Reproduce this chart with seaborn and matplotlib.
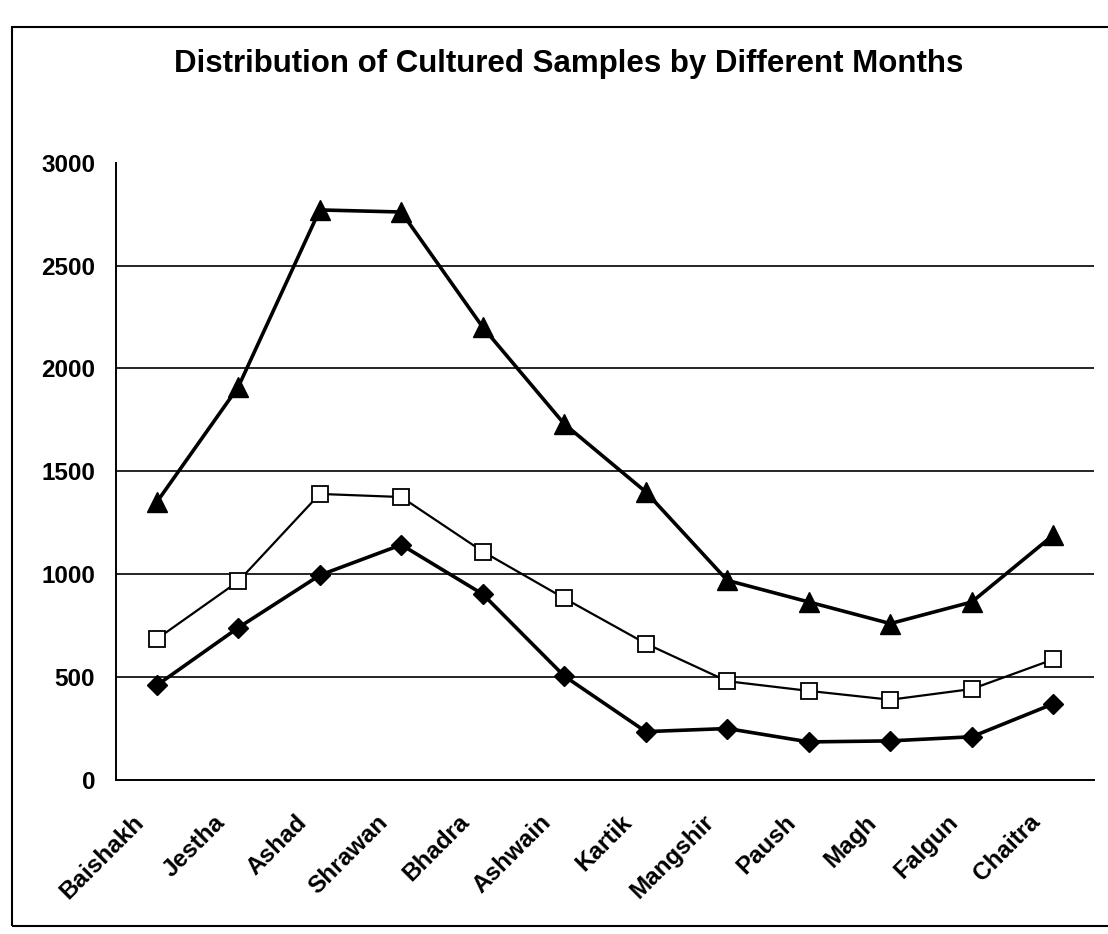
import numpy as np
import pandas as pd
import matplotlib
matplotlib.use("Agg")
import matplotlib.pyplot as plt
import matplotlib.transforms as mtransforms
from matplotlib.patches import Rectangle
import seaborn as sns

months = ["Baishakh", "Jestha", "Ashad", "Shrawan", "Bhadra", "Ashwain",
          "Kartik", "Mangshir", "Paush", "Magh", "Falgun", "Chaitra"]
triangle_vals = [1350, 1910, 2770, 2760, 2200, 1730, 1400, 970, 865, 760, 865, 1190]
square_vals = [685, 965, 1390, 1375, 1110, 883, 663, 480, 433, 390, 442, 586]
diamond_vals = [460, 740, 995, 1143, 903, 505, 235, 250, 185, 190, 210, 370]
y_ticks = [0, 500, 1000, 1500, 2000, 2500, 3000]

sns.set_style("white")
plt.rcParams["font.family"] = ["Liberation Sans", "DejaVu Sans"]
plt.rcParams["text.color"] = "black"
plt.rcParams["xtick.color"] = "black"
plt.rcParams["ytick.color"] = "black"

df = pd.DataFrame({
    "pos": np.tile(np.arange(len(months)), 3),
    "value": triangle_vals + square_vals + diamond_vals,
    "series": ["Series 1"] * 12 + ["Series 2"] * 12 + ["Series 3"] * 12,
})

fig = plt.figure(figsize=(11.08, 9.34), dpi=100)
ax = fig.add_axes([0.1047, 0.1649, 0.8827, 0.661])

styles = {
    "Series 1": dict(marker="^", markersize=14, lw=2.6, mfc="black", mec="black"),
    "Series 2": dict(marker="s", markersize=11, lw=1.6, mfc="white", mec="black", mew=1.3),
    "Series 3": dict(marker="D", markersize=10, lw=2.6, mfc="black", mec="black"),
}
for name, st in styles.items():
    sub = df[df["series"] == name]
    sns.lineplot(data=sub, x="pos", y="value", ax=ax, color="black",
                 linewidth=st["lw"], marker=st["marker"], markersize=st["markersize"],
                 markerfacecolor=st["mfc"], markeredgecolor=st["mec"],
                 markeredgewidth=st.get("mew", 1), legend=False, zorder=3)

ax.set_xlim(-0.5, len(months) - 0.5)
ax.set_ylim(0, 3000)
for v in y_ticks[1:-1]:
    ax.axhline(v, color="black", lw=1.2, zorder=1)

ax.set_yticks(y_ticks)
ax.set_yticklabels([str(v) for v in y_ticks], fontsize=17.5, fontweight="bold")
ax.set_xticks(np.arange(len(months)))
ax.set_xticklabels(months, rotation=45, ha="right", rotation_mode="anchor",
                   fontsize=17.5, fontweight="bold")
ax.set_xticks(np.arange(len(months) + 1) - 0.5, minor=True)
ax.tick_params(axis="x", which="major", length=0, pad=22)
ax.tick_params(axis="x", which="minor", length=6, width=1.2, direction="out")
ax.tick_params(axis="y", length=9, width=1.2, direction="out", pad=6)

shift = mtransforms.ScaledTranslation(-0.25, 0, fig.dpi_scale_trans)
for lab in ax.get_xticklabels():
    lab.set_transform(lab.get_transform() + shift)

for side in ["top", "right"]:
    ax.spines[side].set_visible(False)
for side in ["left", "bottom"]:
    ax.spines[side].set_color("black")
    ax.spines[side].set_linewidth(1.4)
ax.set_xlabel("")
ax.set_ylabel("")

fig.text(0.513, 0.932, "Distribution of Cultured Samples by Different Months",
         ha="center", va="center", fontsize=22.5, fontweight="bold")

fig.patches.append(Rectangle((0.011, 0.009), 1.0, 0.962, transform=fig.transFigure,
                             fill=False, edgecolor="black", lw=1.5))

fig.savefig("out.png", dpi=100)
